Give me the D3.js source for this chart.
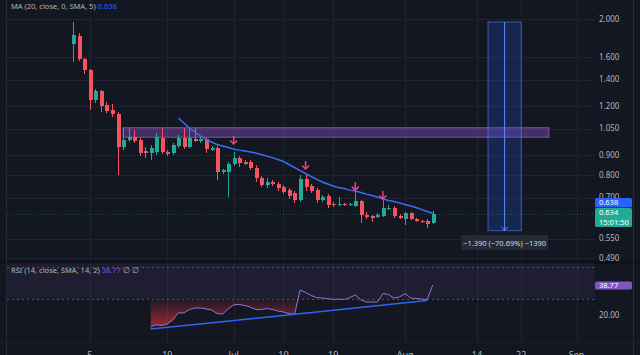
<!DOCTYPE html>
<html>
<head>
<meta charset="utf-8">
<script src="https://cdn.jsdelivr.net/npm/d3@7"></script>
<style>
    html, body { margin: 0; padding: 0; background: #131722; }
    svg { display: block; font-family: "Noto Sans", sans-serif; }
</style>
</head>
<body>
<div id="chart"></div>
<script>
// daily candles, first one on 2 Jun
const startDate = Date.UTC(2023, 5, 2);

const opens = [1.727, 1.810, 1.581, 1.482, 1.242, 1.310, 1.206, 1.171, 1.144, 0.942,
    0.982, 0.999, 0.982, 0.920, 0.909, 0.915, 0.993, 0.915, 0.909, 0.948,
    0.993, 0.942, 0.987, 0.976, 0.987, 0.925, 0.936, 0.813, 0.813, 0.852,
    0.883, 0.862, 0.862, 0.833, 0.785, 0.753, 0.767, 0.758, 0.744, 0.731,
    0.719, 0.690, 0.780, 0.749, 0.731, 0.690, 0.706, 0.674, 0.670, 0.674,
    0.670, 0.666, 0.686, 0.631, 0.626, 0.624, 0.628, 0.656, 0.658, 0.628,
    0.617, 0.639, 0.617, 0.610, 0.610, 0.602];
const highs = [1.966, 1.842, 1.590, 1.490, 1.325, 1.317, 1.227, 1.213, 1.157, 1.053,
    1.053, 1.041, 0.993, 0.942, 0.953, 1.023, 1.053, 0.925, 0.964, 1.011,
    1.053, 1.053, 1.053, 1.005, 0.999, 0.948, 0.948, 0.828, 0.862, 0.915,
    0.893, 0.873, 0.873, 0.847, 0.794, 0.785, 0.776, 0.767, 0.753, 0.740,
    0.727, 0.799, 0.799, 0.758, 0.740, 0.710, 0.714, 0.682, 0.702, 0.678,
    0.678, 0.727, 0.690, 0.643, 0.631, 0.639, 0.690, 0.670, 0.666, 0.635,
    0.643, 0.643, 0.620, 0.613, 0.617, 0.646];
const lows = [1.553, 1.562, 1.447, 1.171, 1.220, 1.157, 1.151, 1.124, 0.799, 0.925,
    0.970, 0.964, 0.893, 0.883, 0.873, 0.899, 0.904, 0.893, 0.899, 0.936,
    0.931, 0.936, 0.970, 0.964, 0.909, 0.920, 0.776, 0.804, 0.702, 0.842,
    0.837, 0.847, 0.823, 0.767, 0.744, 0.740, 0.749, 0.727, 0.714, 0.694,
    0.678, 0.682, 0.727, 0.719, 0.678, 0.682, 0.658, 0.662, 0.666, 0.666,
    0.666, 0.662, 0.602, 0.617, 0.606, 0.620, 0.624, 0.650, 0.620, 0.617,
    0.595, 0.613, 0.606, 0.602, 0.585, 0.599];
const closes = [1.820, 1.581, 1.482, 1.242, 1.310, 1.199, 1.164, 1.144, 0.942, 0.982,
    0.999, 0.976, 0.909, 0.909, 0.936, 0.999, 0.915, 0.904, 0.953, 0.993,
    0.942, 0.993, 0.976, 0.987, 0.931, 0.936, 0.813, 0.823, 0.852, 0.883,
    0.857, 0.852, 0.833, 0.785, 0.753, 0.767, 0.758, 0.740, 0.723, 0.706,
    0.690, 0.780, 0.744, 0.727, 0.690, 0.702, 0.670, 0.668, 0.674, 0.670,
    0.674, 0.686, 0.631, 0.624, 0.620, 0.631, 0.658, 0.660, 0.628, 0.620,
    0.639, 0.617, 0.610, 0.606, 0.599, 0.634];

// MA (20) starts at candle 19
const maStart = 19;
const maValues = [1.117, 1.085, 1.053, 1.029, 1.005, 0.984, 0.970, 0.956, 0.948, 0.939,
    0.931, 0.925, 0.920, 0.915, 0.909, 0.901, 0.893, 0.885, 0.875, 0.865,
    0.850, 0.835, 0.820, 0.806, 0.792, 0.780, 0.767, 0.758, 0.749, 0.742,
    0.738, 0.731, 0.727, 0.721, 0.714, 0.708, 0.702, 0.694, 0.688, 0.684,
    0.678, 0.672, 0.666, 0.660, 0.652, 0.645, 0.638];

// RSI (14) starts at candle 14
const rsiStart = 14;
const rsiValues = [12.5, 13.8, 13.4, 14.4, 16.9, 21.3, 21.3, 23.4, 24.4, 24.4,
    23.8, 23.1, 20.9, 20.6, 23.8, 26.3, 26.6, 25.9, 25.0, 23.4,
    23.4, 24.1, 23.4, 22.5, 21.9, 20.9, 20.3, 35.6, 34.1, 32.2,
    30.9, 30.6, 30.3, 29.7, 30.0, 29.7, 30.9, 32.5, 29.4, 28.1,
    28.1, 28.1, 33.4, 32.8, 30.6, 31.3, 33.4, 30.6, 30.3, 30.0,
    29.7, 38.77];

const priceTicks = [2.0, 1.6, 1.4, 1.2, 1.05, 0.9, 0.8, 0.7, 0.55, 0.49];
const rsiTicks = [20];
const rsiBands = [70, 50, 30];
const timeTickDates = ["2023-06-05", "2023-06-19", "2023-07-01", "2023-07-10", "2023-07-19",
    "2023-08-01", "2023-08-14", "2023-08-22", "2023-09-01"];
const timeTickLabels = ["5", "19", "Jul", "10", "19", "Aug", "14", "22", "Sep"];

// drawings
const zoneCandles = [9, 86];
const zonePrices = [1.055, 0.998];
const arrowCandles = [29, 42, 51, 56];
const arrowPrices = [0.959, 0.828, 0.731, 0.694];
const rsiTrendCandles = [14, 64];
const rsiTrendValues = [11.2, 29.1];
const measureCandles = [75, 81];
const measurePrices = [1.966, 0.576];
const measureText = "\u22121.390 (\u221270.69%) \u22121390";

const lastPrice = 0.634;
const lastMa = 0.638;
const lastRsi = 38.77;
const countdown = "15:01:50";

const width = 640, height = 355;
const plotLeft = 7, plotRight = 595;
const mainTop = 0, mainBottom = 262;
const rsiTop = 263, rsiBottom = 342;

const colors = {
    background: "#131722",
    grid: "#1f2330",
    text: "#b2b5be",
    up: "#22ab94",
    down: "#f7525f",
    ma: "#3a6df0",
    rsi: "#9575cd",
    zone: "rgba(135, 80, 190, 0.42)",
    arrow: "#f23f7a",
};

const dayOf = i => d3.utcDay.offset(new Date(startDate), i);

const x = d3.scaleUtc()
    .domain([new Date(startDate), new Date(Date.UTC(2023, 8, 1))])
    .range([73.3, 576.5]);

const y = d3.scaleLog()
    .domain([0.479, 2.237])
    .range([mainBottom, mainTop]);

const yRsi = d3.scaleLinear()
    .domain([20, 30])
    .range([315, 299]);

const candles = closes.map((c, i) => ({
    date: dayOf(i), open: opens[i], high: highs[i], low: lows[i], close: c,
}));

const svg = d3.select("#chart").append("svg")
    .attr("width", width)
    .attr("height", height);

svg.append("rect")
    .attr("width", width)
    .attr("height", height)
    .attr("fill", colors.background);

const defs = svg.append("defs");
defs.append("clipPath").attr("id", "mainClip")
    .append("rect")
    .attr("x", plotLeft).attr("y", mainTop)
    .attr("width", plotRight - plotLeft).attr("height", mainBottom - mainTop);
defs.append("clipPath").attr("id", "rsiClip")
    .append("rect")
    .attr("x", plotLeft).attr("y", rsiTop)
    .attr("width", plotRight - plotLeft).attr("height", rsiBottom - rsiTop);

const grad = defs.append("linearGradient")
    .attr("id", "oversold")
    .attr("gradientUnits", "userSpaceOnUse")
    .attr("x1", 0).attr("x2", 0)
    .attr("y1", yRsi(30)).attr("y2", yRsi(0));
grad.append("stop").attr("offset", 0).attr("stop-color", "rgb(242, 54, 69)").attr("stop-opacity", 0.05);
grad.append("stop").attr("offset", 1).attr("stop-color", "rgb(242, 54, 69)").attr("stop-opacity", 1);

// grid
const timeTicks = timeTickDates.map(d => new Date(d + "T00:00:00Z"));

svg.append("g")
    .selectAll("line")
    .data(timeTicks)
    .join("line")
    .attr("x1", d => Math.round(x(d)) + 0.5)
    .attr("x2", d => Math.round(x(d)) + 0.5)
    .attr("y1", 0)
    .attr("y2", rsiBottom)
    .attr("stroke", colors.grid)
    .attr("stroke-width", 1);

svg.append("g")
    .selectAll("line")
    .data(priceTicks)
    .join("line")
    .attr("x1", plotLeft)
    .attr("x2", plotRight)
    .attr("y1", d => Math.round(y(d)) + 0.5)
    .attr("y2", d => Math.round(y(d)) + 0.5)
    .attr("stroke", colors.grid)
    .attr("stroke-width", 1);

// ---- main pane
const main = svg.append("g").attr("clip-path", "url(#mainClip)");

main.append("rect")
    .attr("x", x(dayOf(zoneCandles[0])))
    .attr("y", y(zonePrices[0]))
    .attr("width", x(dayOf(zoneCandles[1])) - x(dayOf(zoneCandles[0])))
    .attr("height", y(zonePrices[1]) - y(zonePrices[0]))
    .attr("fill", colors.zone)
    .attr("stroke", "#7d52b0")
    .attr("stroke-width", 1);

// measure box
const mx0 = x(dayOf(measureCandles[0])), mx1 = x(dayOf(measureCandles[1]));
const mxc = (mx0 + mx1) / 2;
main.append("rect")
    .attr("x", mx0)
    .attr("y", y(measurePrices[0]))
    .attr("width", mx1 - mx0)
    .attr("height", y(measurePrices[1]) - y(measurePrices[0]))
    .attr("fill", "rgba(41, 98, 255, 0.2)")
    .attr("stroke", "rgba(80, 130, 255, 0.6)")
    .attr("stroke-width", 1);
main.append("line")
    .attr("x1", mxc).attr("x2", mxc)
    .attr("y1", y(measurePrices[0])).attr("y2", y(measurePrices[1]))
    .attr("stroke", "#5b8cff")
    .attr("stroke-width", 1);
main.append("path")
    .attr("d", `M${mxc - 3},${y(measurePrices[1]) - 4}L${mxc},${y(measurePrices[1])}L${mxc + 3},${y(measurePrices[1]) - 4}`)
    .attr("fill", "none")
    .attr("stroke", "#5b8cff");

// last price line
main.append("line")
    .attr("x1", plotLeft).attr("x2", plotRight)
    .attr("y1", Math.round(y(lastPrice)) + 0.5).attr("y2", Math.round(y(lastPrice)) + 0.5)
    .attr("stroke", colors.up)
    .attr("stroke-opacity", 0.4)
    .attr("stroke-dasharray", "1,2");

// candles
const candle = main.append("g")
    .selectAll("g")
    .data(candles)
    .join("g")
    .attr("shape-rendering", "crispEdges");

candle.append("line")
    .attr("x1", d => Math.round(x(d.date)) + 0.5)
    .attr("x2", d => Math.round(x(d.date)) + 0.5)
    .attr("y1", d => y(d.high))
    .attr("y2", d => y(d.low))
    .attr("stroke", d => d.close >= d.open ? colors.up : colors.down);

candle.append("rect")
    .attr("x", d => Math.round(x(d.date)) - 1.5)
    .attr("y", d => y(Math.max(d.open, d.close)))
    .attr("width", 4)
    .attr("height", d => Math.max(1, Math.abs(y(d.open) - y(d.close))))
    .attr("fill", d => d.close >= d.open ? colors.up : colors.down);

// moving average
const maLine = d3.line()
    .x((d, i) => x(dayOf(maStart + i)))
    .y(d => y(d));

main.append("path")
    .datum(maValues)
    .attr("d", maLine)
    .attr("fill", "none")
    .attr("stroke", colors.ma)
    .attr("stroke-width", 1.5);

// arrows
main.append("g")
    .selectAll("path")
    .data(arrowCandles)
    .join("path")
    .attr("transform", (d, i) => `translate(${x(dayOf(d))},${y(arrowPrices[i])})`)
    .attr("d", "M0,-8L0,0M-3.5,-3.5L0,0L3.5,-3.5")
    .attr("fill", "none")
    .attr("stroke", colors.arrow)
    .attr("stroke-width", 1.5);

// measure label
svg.append("rect")
    .attr("x", mxc - 43.5)
    .attr("y", 235)
    .attr("width", 87)
    .attr("height", 15)
    .attr("rx", 2)
    .attr("fill", "#262a36");
svg.append("text")
    .attr("x", mxc)
    .attr("y", 245.5)
    .attr("text-anchor", "middle")
    .attr("font-size", 7.5)
    .attr("fill", "#d1d4dc")
    .text(measureText);

// ---- RSI pane
svg.append("line")
    .attr("x1", 0).attr("x2", width)
    .attr("y1", rsiTop - 0.5).attr("y2", rsiTop - 0.5)
    .attr("stroke", "#0c0e15")
    .attr("stroke-width", 2);

const rsiPane = svg.append("g").attr("clip-path", "url(#rsiClip)");

rsiPane.append("rect")
    .attr("x", plotLeft)
    .attr("y", yRsi(70))
    .attr("width", plotRight - plotLeft)
    .attr("height", yRsi(30) - yRsi(70))
    .attr("fill", "rgba(126, 87, 194, 0.1)");

rsiPane.append("g")
    .selectAll("line")
    .data(rsiBands)
    .join("line")
    .attr("x1", plotLeft).attr("x2", plotRight)
    .attr("y1", d => Math.round(yRsi(d)) + 0.5)
    .attr("y2", d => Math.round(yRsi(d)) + 0.5)
    .attr("stroke", "#787b86")
    .attr("stroke-opacity", 0.6)
    .attr("stroke-dasharray", "2,3");

const rsiPoints = rsiValues.map((v, i) => ({ date: dayOf(rsiStart + i), v: v }));

rsiPane.append("path")
    .datum(rsiPoints)
    .attr("d", d3.area()
        .x(d => x(d.date))
        .y0(yRsi(30))
        .y1(d => yRsi(Math.min(d.v, 30))))
    .attr("fill", "url(#oversold)");

rsiPane.append("path")
    .datum(rsiPoints)
    .attr("d", d3.line().x(d => x(d.date)).y(d => yRsi(d.v)))
    .attr("fill", "none")
    .attr("stroke", colors.rsi)
    .attr("stroke-width", 1);

rsiPane.append("line")
    .attr("x1", x(dayOf(rsiTrendCandles[0])))
    .attr("x2", x(dayOf(rsiTrendCandles[1])))
    .attr("y1", yRsi(rsiTrendValues[0]))
    .attr("y2", yRsi(rsiTrendValues[1]))
    .attr("stroke", "#2f63f5")
    .attr("stroke-width", 1.5);

svg.append("line")
    .attr("x1", 0).attr("x2", width)
    .attr("y1", rsiBottom + 0.5).attr("y2", rsiBottom + 0.5)
    .attr("stroke", "#1c202b");

// ---- price axis
const axisX = 599;

svg.append("g")
    .selectAll("text")
    .data(priceTicks)
    .join("text")
    .attr("x", axisX)
    .attr("y", d => y(d))
    .attr("dy", "0.35em")
    .attr("font-size", 8)
    .attr("fill", colors.text)
    .text(d => d3.format(".3f")(d));

svg.append("g")
    .selectAll("text")
    .data(rsiTicks)
    .join("text")
    .attr("x", axisX)
    .attr("y", d => yRsi(d))
    .attr("dy", "0.35em")
    .attr("font-size", 8)
    .attr("fill", colors.text)
    .text(d => d3.format(".2f")(d));

function priceTag(yTop, h, fill, lines) {
    svg.append("rect")
        .attr("x", 595).attr("y", yTop)
        .attr("width", 37).attr("height", h)
        .attr("rx", 1.5)
        .attr("fill", fill);
    lines.forEach((t, k) => {
        svg.append("text")
            .attr("x", axisX)
            .attr("y", yTop + 7 + k * 9.5)
            .attr("font-size", 7.5)
            .attr("fill", "#ffffff")
            .text(t);
    });
}

// tags are stacked so they do not cover each other
priceTag(198, 9.5, "#2962ff", [d3.format(".3f")(lastMa)]);
priceTag(208, 19, "#22ab94", [d3.format(".3f")(lastPrice), countdown]);
priceTag(yRsi(lastRsi) - 3.5, 8, "#7e57c2", [d3.format(".2f")(lastRsi)]);

// ---- time axis (cut by the bottom edge, as in the source)
svg.append("g")
    .selectAll("text")
    .data(timeTicks)
    .join("text")
    .attr("x", d => x(d))
    .attr("y", 358)
    .attr("text-anchor", "middle")
    .attr("font-size", 9)
    .attr("fill", colors.text)
    .text((d, i) => timeTickLabels[i]);

// ---- borders
svg.append("line")
    .attr("x1", 6.5).attr("x2", 6.5).attr("y1", 0).attr("y2", height)
    .attr("stroke", "#252935");
svg.append("line")
    .attr("x1", 633.5).attr("x2", 633.5).attr("y1", 0).attr("y2", height)
    .attr("stroke", "#252935");

// ---- legends
const maLegend = svg.append("text")
    .attr("x", 11)
    .attr("y", 9)
    .attr("font-size", 7.5)
    .attr("fill", colors.text);
maLegend.append("tspan").text("MA (20, close, 0, SMA, 5) ");
maLegend.append("tspan").attr("fill", "#2962ff").text(d3.format(".3f")(lastMa));

const rsiLegend = svg.append("text")
    .attr("x", 11)
    .attr("y", 273)
    .attr("font-size", 7.5)
    .attr("fill", colors.text);
rsiLegend.append("tspan").text("RSI (14, close, SMA, 14, 2) ");
rsiLegend.append("tspan").attr("fill", "#7e57c2").text(d3.format(".2f")(lastRsi));
rsiLegend.append("tspan").text("  \u2205  \u2205");
</script>
</body>
</html>
